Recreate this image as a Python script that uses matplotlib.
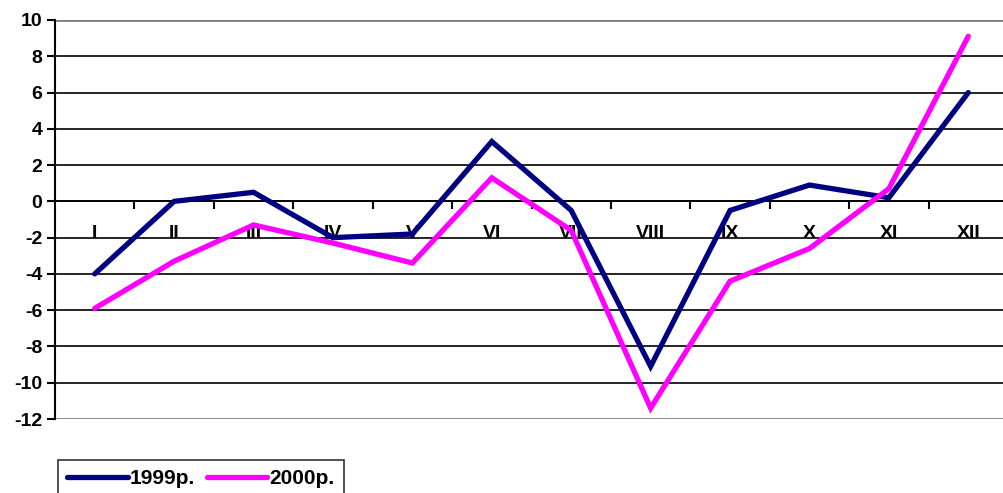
import matplotlib
matplotlib.use("Agg")
import matplotlib.pyplot as plt
import numpy as np

months = ["I", "II", "III", "IV", "V", "VI", "VII", "VIII", "IX", "X", "XI", "XII"]
y1999 = [-4.0, 0.0, 0.5, -2.0, -1.8, 3.3, -0.5, -9.1, -0.5, 0.9, 0.2, 6.0]
y2000 = [-5.9, -3.3, -1.3, -2.3, -3.4, 1.3, -1.6, -11.4, -4.4, -2.6, 0.7, 9.1]
yticks = list(range(-12, 11, 2))

plt.rcParams['font.family'] = ['Liberation Sans', 'DejaVu Sans']

fig = plt.figure(figsize=(10.04, 4.93), dpi=100)
ax = fig.add_axes([55/1004, 1-419/493, 953/1004, 399/493])

x = np.arange(len(months))
for v in yticks[1:-1]:
    ax.axhline(v, color='black', lw=1.2, zorder=1)
ax.axhline(10, color='#808080', lw=2, zorder=1)
ax.axhline(-12, color='#808080', lw=2, zorder=1)

ax.plot(x, y1999, color='#000080', lw=3.8, solid_capstyle='round', solid_joinstyle='miter', label='1999р.', zorder=3)
ax.plot(x, y2000, color='#FF00FF', lw=3.8, solid_capstyle='round', solid_joinstyle='miter', label='2000р.', zorder=3)

ax.set_xlim(-0.5, 11.5)
ax.set_ylim(-12, 10)
ax.set_yticks(yticks)
ax.set_yticklabels([str(v) for v in yticks], fontsize=14, fontweight='bold')
ax.tick_params(axis='y', direction='out', length=6, width=1.5, pad=3)

ax.spines['top'].set_visible(False)
ax.spines['right'].set_visible(False)
ax.spines['bottom'].set_position(('data', 0))
ax.spines['bottom'].set_linewidth(1.2)
ax.spines['left'].set_linewidth(1.5)

ax.set_xticks(x)
ax.set_xticklabels(months, fontsize=14, fontweight='bold')
ax.set_xticks(np.arange(0.5, 11.5, 1), minor=True)
ax.tick_params(axis='x', which='major', length=0, pad=17)
ax.tick_params(axis='x', which='minor', direction='out', length=6, width=1.5)

leg = fig.legend(loc='upper left', bbox_to_anchor=(58/1004, 1-460/493), ncol=2,
                 prop={'weight': 'bold', 'size': 15}, frameon=True, fancybox=False,
                 handlelength=2.9, handletextpad=0.1, columnspacing=0.55,
                 borderpad=0.45, borderaxespad=0)
leg.get_frame().set_edgecolor('black')
leg.get_frame().set_linewidth(1.2)

fig.savefig('out.png', dpi=100)
